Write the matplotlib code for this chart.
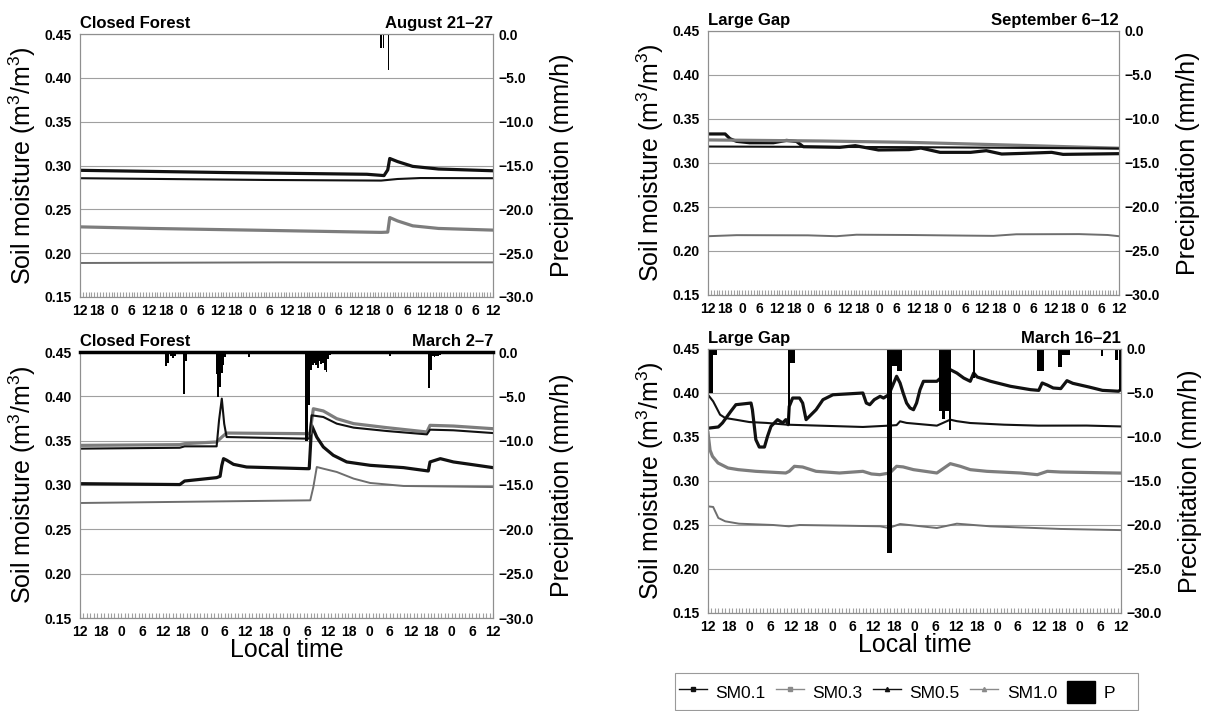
import matplotlib
matplotlib.use("Agg")
import matplotlib.pyplot as plt
from matplotlib.lines import Line2D
from matplotlib.patches import Patch, Rectangle
from matplotlib.ticker import FixedLocator, MultipleLocator, FuncFormatter

plt.rcParams["font.family"] = ["Liberation Sans", "DejaVu Sans"]
plt.rcParams["mathtext.fontset"] = "custom"
plt.rcParams["mathtext.rm"] = "Liberation Sans"
plt.rcParams["mathtext.it"] = "Liberation Sans:italic"
plt.rcParams["mathtext.bf"] = "Liberation Sans:bold"

# ---- data (hours since 12:00 of the first day, soil moisture m3/m3, rain mm/h)
hour_cycle = ["12", "18", "0", "6"]
xlabels_6d = hour_cycle * 6 + ["12"]
xlabels_5d = hour_cycle * 5 + ["12"]

# Closed Forest, August 21-27
aug_h_sm01 = [0, 50, 100, 106, 107.3, 108, 110.7, 116, 125, 144]
aug_sm01 = [0.2945, 0.292, 0.290, 0.2885, 0.295, 0.308, 0.3045, 0.299, 0.296, 0.294]
aug_h_sm03 = [0, 25, 65, 105, 107.3, 108, 110.7, 116, 125, 144]
aug_sm03 = [0.230, 0.2282, 0.226, 0.2237, 0.224, 0.2406, 0.2368, 0.2312, 0.2282, 0.2263]
aug_h_sm05 = [0, 65, 105, 110.7, 118.7, 144]
aug_sm05 = [0.2855, 0.2835, 0.2828, 0.2846, 0.2857, 0.2855]
aug_h_sm10 = [0, 70, 144]
aug_sm10 = [0.1888, 0.1895, 0.1895]
aug_rain_h = [105.0, 105.8, 107.6]
aug_rain_mm = [1.6, 1.6, 4.1]

# Large Gap, September 6-12
sep_h_sm01 = [0, 6, 7.7, 10, 14.6, 22.9, 27.5, 31, 33.4, 46.2, 51.6, 59.7, 70.5,
              74.6, 81.3, 92, 97.5, 102.9, 111, 120.4, 124.4, 144]
sep_sm01 = [0.333, 0.333, 0.3276, 0.3246, 0.323, 0.323, 0.3257, 0.3245, 0.3185,
            0.3178, 0.3197, 0.3148, 0.3152, 0.317, 0.3121, 0.3121, 0.314, 0.3102,
            0.311, 0.3121, 0.3098, 0.3106]
sep_h_sm03 = [0, 40, 70, 110, 144]
sep_sm03 = [0.3262, 0.325, 0.3235, 0.320, 0.3168]
sep_h_sm05 = [0, 70, 144]
sep_sm05 = [0.3187, 0.318, 0.3165]
sep_h_sm10 = [0, 10, 35, 45, 52, 70, 90, 100, 108, 130, 140, 144]
sep_sm10 = [0.2168, 0.218, 0.2178, 0.2168, 0.2185, 0.2182, 0.2175, 0.2172, 0.219,
            0.2192, 0.2182, 0.2168]
sep_rain_h = []
sep_rain_mm = []

# Closed Forest, March 2-7
mar2_h_sm01 = [0, 29, 30.4, 39.7, 40.7, 41.2, 41.7, 42.6, 44.6, 48.4, 65.9, 66.6,
               67.3, 68.8, 70.7, 73.6, 77.5, 84.3, 94, 101.2, 101.7, 104.7, 108.5,
               113.4, 120]
mar2_sm01 = [0.3015, 0.3005, 0.3045, 0.3083, 0.3098, 0.322, 0.3297, 0.328, 0.3233,
             0.3203, 0.3184, 0.3184, 0.3673, 0.354, 0.3429, 0.3335, 0.326, 0.3222,
             0.3196, 0.3158, 0.326, 0.3297, 0.326, 0.3233, 0.3196]
mar2_h_sm03 = [0, 29, 30.4, 39.7, 41.2, 42.6, 65.5, 66.8, 67.8, 70.7, 74.6, 79.5,
               89.1, 100.8, 101.7, 108.5, 120]
mar2_sm03 = [0.3447, 0.3455, 0.3466, 0.3485, 0.354, 0.3586, 0.3579, 0.3579, 0.386,
             0.3835, 0.3748, 0.3692, 0.3647, 0.3598, 0.3673, 0.3665, 0.3635]
mar2_h_sm05 = [0, 29, 30.4, 39.7, 40.4, 41.2, 41.9, 42.6, 65.5, 66.6, 67.3, 70.7,
               74.6, 79.5, 89.1, 100.8, 101.7, 108.5, 120]
mar2_sm05 = [0.341, 0.342, 0.3436, 0.3436, 0.373, 0.3974, 0.369, 0.3541, 0.3523,
             0.3523, 0.3786, 0.3767, 0.3692, 0.3647, 0.3609, 0.3571, 0.3624,
             0.3617, 0.3586]
mar2_h_sm10 = [0, 66.9, 67.8, 68.8, 70.7, 74.6, 79.5, 84.3, 94, 120]
mar2_sm10 = [0.2797, 0.2827, 0.2977, 0.3203, 0.3184, 0.3147, 0.3072, 0.3023,
             0.2989, 0.2977]
mar2_rain_h = [25.0, 25.5, 26.5, 27.0, 27.5, 30.3, 30.8, 39.8, 40.2, 40.7, 41.2,
               41.7, 42.2, 49.0, 65.6, 66.1, 66.6, 67.1, 67.6, 68.1, 68.6, 69.1,
               69.6, 70.1, 70.6, 71.1, 71.6, 72.1, 72.6, 90.0, 101.5, 102.0,
               102.5, 103.0, 103.5, 104.0, 104.5]
mar2_rain_mm = [1.6, 1.2, 0.5, 0.7, 0.4, 4.7, 1.0, 2.5, 5.1, 4.0, 2.4, 1.5, 0.6,
                0.6, 10.0, 10.0, 6.0, 2.0, 1.5, 1.2, 1.5, 1.8, 1.0, 1.3, 1.2, 2.0,
                2.2, 0.8, 0.3, 0.5, 4.1, 2.0, 0.5, 0.6, 0.5, 0.4, 0.3]

# Large Gap, March 16-21
mar16_h_sm01 = [0, 3, 4.2, 6.6, 8.1, 12.5, 12.9, 13.9, 14.9, 16.4, 17.3, 18.3,
                20.2, 21.7, 22.6, 23.3, 23.6, 24.6, 26.6, 27.5, 28.5, 31.4, 33.4,
                36.3, 45, 46, 47, 48.3, 50, 51, 52.5, 54.8, 55.8, 56.7, 57.7, 58.7,
                59.7, 60.6, 61.6, 62.6, 66.5, 70.4, 72.3, 74.3, 76.2, 77.2, 78.2,
                82.1, 87.9, 93.7, 96.1, 97.1, 98.6, 100.3, 102.5, 104.3, 106,
                110.7, 114.6, 119.3, 120]
mar16_sm01 = [0.360, 0.3614, 0.366, 0.379, 0.3867, 0.3886, 0.381, 0.347, 0.3386,
              0.3386, 0.3508, 0.3621, 0.3697, 0.366, 0.3697, 0.364, 0.3848,
              0.3943, 0.3943, 0.3886, 0.3697, 0.381, 0.3924, 0.398, 0.400, 0.3886,
              0.3867, 0.3924, 0.3962, 0.3943, 0.398, 0.419, 0.4114, 0.400, 0.3886,
              0.383, 0.381, 0.3886, 0.4038, 0.4133, 0.4133, 0.4265, 0.4227, 0.417,
              0.4133, 0.4227, 0.4182, 0.4133, 0.4076, 0.4038, 0.403, 0.4114, 0.409,
              0.4057, 0.405, 0.414, 0.411, 0.4068, 0.403, 0.402, 0.404]
mar16_h_sm03 = [0, 0.6, 1.3, 2.9, 5.8, 8.8, 13.9, 22.6, 23.6, 25.1, 27.5, 31.4,
                38.2, 45, 47.5, 49.9, 52.8, 54.8, 56.7, 59.7, 66.5, 70.4, 73.3,
                76.2, 81, 90.8, 95.7, 98.6, 102.5, 120]
mar16_sm03 = [0.355, 0.335, 0.328, 0.3205, 0.3148, 0.3129, 0.311, 0.3091, 0.311,
              0.3167, 0.3159, 0.311, 0.3091, 0.311, 0.308, 0.3072, 0.3091, 0.3167,
              0.316, 0.3129, 0.3091, 0.3197, 0.3167, 0.3129, 0.311, 0.3091, 0.3072,
              0.311, 0.3102, 0.309]
mar16_h_sm05 = [0, 1.5, 2.5, 3.5, 5, 8, 12, 17, 23, 45, 52.5, 54.8, 55.8, 57.7,
                66.5, 70.4, 72.3, 76.2, 86, 96, 110, 120]
mar16_sm05 = [0.398, 0.3905, 0.383, 0.3754, 0.3716, 0.3697, 0.367, 0.366, 0.364,
              0.3614, 0.3629, 0.3635, 0.3678, 0.366, 0.3629, 0.3697, 0.368, 0.3659,
              0.364, 0.3629, 0.363, 0.362]
mar16_h_sm10 = [0, 1.5, 3, 5, 9, 19, 23.5, 26.6, 40, 50, 52.5, 55.8, 66.5, 72.3,
                82, 102.5, 120]
mar16_sm10 = [0.2712, 0.2705, 0.258, 0.2542, 0.2515, 0.250, 0.2485, 0.250, 0.2492,
              0.2485, 0.2466, 0.2511, 0.2466, 0.2515, 0.2485, 0.2455, 0.2442]
mar16_rain_h = [0.25, 0.75, 1.25, 1.75, 2.25, 23.5, 24.0, 24.5, 25.0, 52.25, 52.75,
                53.25, 53.75, 54.25, 54.75, 55.25, 55.75, 56.25, 67.25, 67.75,
                68.25, 68.75, 69.25, 69.75, 70.25, 77.25, 95.75, 96.25, 96.75,
                97.25, 102.0, 102.5, 103.0, 103.5, 104.0, 104.5, 105.0, 114.5,
                118.5, 119.0, 119.75]
mar16_rain_mm = [5.0, 5.0, 5.0, 0.7, 0.7, 8.6, 1.6, 1.6, 1.6, 23.2, 23.2, 23.2,
                 1.9, 1.9, 1.9, 2.5, 2.5, 2.5, 7.0, 7.0, 8.0, 8.0, 7.0, 7.0, 9.2,
                 3.3, 2.5, 2.5, 2.5, 2.5, 2.0, 2.0, 0.65, 0.65, 0.65, 0.65, 0.65,
                 0.75, 1.2, 1.2, 4.8]

# ---- styles
W, H = 1206, 711
line_style = {
    "SM0.1": dict(color="#111111", lw=2.3),
    "SM0.3": dict(color="#7d7d7d", lw=2.3),
    "SM0.5": dict(color="#111111", lw=1.5),
    "SM1.0": dict(color="#6e6e6e", lw=1.4),
}
spine_grey = "#8f8f8f"
tick_font = dict(size=10, weight="bold")


def px_box(x0, y0, x1, y1):
    return [x0 / W, 1 - y1 / H, (x1 - x0) / W, (y1 - y0) / H]


def draw_panel(fig, box, site, period, n_hours, xlabels, series, rain_h, rain_mm,
               heavy_top=False, xlabel=None):
    ax = fig.add_axes(px_box(*box))
    ax.set_xlim(0, n_hours)
    ax.set_ylim(0.15, 0.45)
    for name, (hrs, vals) in series.items():
        ax.plot(hrs, vals, solid_joinstyle="round", **line_style[name])

    ax.set_yticks([0.15, 0.20, 0.25, 0.30, 0.35, 0.40, 0.45])
    ax.yaxis.set_major_formatter(FuncFormatter(lambda v, p: f"{v:.2f}"))
    ax.yaxis.grid(True, color="#a0a0a0", lw=0.8)
    ax.set_axisbelow(True)
    ax.xaxis.set_major_locator(FixedLocator(list(range(0, n_hours + 1, 6))))
    ax.set_xticklabels(xlabels)
    ax.xaxis.set_minor_locator(MultipleLocator(1))
    ax.tick_params(axis="x", which="both", direction="in", length=3.5, width=0.8,
                   color="#a0a0a0", pad=5)
    ax.tick_params(axis="y", length=0, pad=6)
    for lab in ax.get_xticklabels() + ax.get_yticklabels():
        lab.set_fontsize(tick_font["size"])
        lab.set_fontweight(tick_font["weight"])

    ax.set_ylabel("Soil moisture (m$^3$/m$^3$)", fontsize=18)
    ax.yaxis.set_label_coords(-0.102, 0.5)
    if xlabel:
        ax.set_xlabel(xlabel, fontsize=18)
        ax.xaxis.set_label_coords(0.5, -0.075)

    ax.set_title(site, loc="left", fontsize=12, fontweight="bold", pad=4)
    ax.set_title(period, loc="right", fontsize=12, fontweight="bold", pad=4)

    ax2 = ax.twinx()
    ax2.set_ylim(-30, 0)
    ax2.bar(rain_h, [-v for v in rain_mm], width=0.5, color="black", linewidth=0)
    ax2.set_yticks(list(range(-30, 1, 5)))
    ax2.yaxis.set_major_formatter(
        FuncFormatter(lambda v, p: f"{v:.1f}".replace("-", "\u2212")))
    ax2.tick_params(axis="y", length=0, pad=4)
    for lab in ax2.get_yticklabels():
        lab.set_fontsize(tick_font["size"])
        lab.set_fontweight(tick_font["weight"])
    ax2.set_ylabel("Precipitation (mm/h)", fontsize=18)
    ax2.yaxis.set_label_coords(1.138, 0.5)

    for a in (ax, ax2):
        for sp in a.spines.values():
            sp.set_color(spine_grey)
            sp.set_linewidth(0.8)
    if heavy_top:
        ax2.spines["top"].set_color("black")
        ax2.spines["top"].set_linewidth(2.5)
    return ax, ax2


fig = plt.figure(figsize=(W / 100, H / 100), dpi=100)

draw_panel(fig, (80, 34, 493, 297), "Closed Forest", "August 21\u201327", 144, xlabels_6d,
           {"SM0.1": (aug_h_sm01, aug_sm01), "SM0.3": (aug_h_sm03, aug_sm03),
            "SM0.5": (aug_h_sm05, aug_sm05), "SM1.0": (aug_h_sm10, aug_sm10)},
           aug_rain_h, aug_rain_mm)

draw_panel(fig, (80, 352, 493, 618), "Closed Forest", "March 2\u20137", 120, xlabels_5d,
           {"SM0.1": (mar2_h_sm01, mar2_sm01), "SM0.3": (mar2_h_sm03, mar2_sm03),
            "SM0.5": (mar2_h_sm05, mar2_sm05), "SM1.0": (mar2_h_sm10, mar2_sm10)},
           mar2_rain_h, mar2_rain_mm, heavy_top=True, xlabel="Local time")

draw_panel(fig, (708, 31, 1119, 295), "Large Gap", "September 6\u201312", 144, xlabels_6d,
           {"SM0.1": (sep_h_sm01, sep_sm01), "SM0.3": (sep_h_sm03, sep_sm03),
            "SM0.5": (sep_h_sm05, sep_sm05), "SM1.0": (sep_h_sm10, sep_sm10)},
           sep_rain_h, sep_rain_mm)

draw_panel(fig, (708, 349, 1121, 613), "Large Gap", "March 16\u201321", 120, xlabels_5d,
           {"SM0.1": (mar16_h_sm01, mar16_sm01), "SM0.3": (mar16_h_sm03, mar16_sm03),
            "SM0.5": (mar16_h_sm05, mar16_sm05), "SM1.0": (mar16_h_sm10, mar16_sm10)},
           mar16_rain_h, mar16_rain_mm, xlabel="Local time")

# legend with an Excel-like box
handles = [
    Line2D([], [], color="#111111", lw=1.0, marker="s", markersize=3),
    Line2D([], [], color="#8a8a8a", lw=1.0, marker="s", markersize=3),
    Line2D([], [], color="#111111", lw=1.0, marker="^", markersize=3),
    Line2D([], [], color="#8a8a8a", lw=1.0, marker="^", markersize=3),
    Patch(facecolor="black", edgecolor="black"),
]
labels = ["SM0.1", "SM0.3", "SM0.5", "SM1.0", "P"]
fig.legend(handles, labels, loc="center left", bbox_to_anchor=(679 / W, 1 - 692 / H),
           ncol=5, fontsize=12.5, frameon=False, handlelength=1.6, handleheight=1.6,
           handletextpad=0.5, columnspacing=0.6, borderpad=0, borderaxespad=0)
fig.patches.append(Rectangle((675 / W, 1 - 710 / H), 463 / W, 37 / H,
                             transform=fig.transFigure, fill=False,
                             edgecolor="#9a9a9a", lw=0.8))

fig.savefig("out.png", dpi=100)
